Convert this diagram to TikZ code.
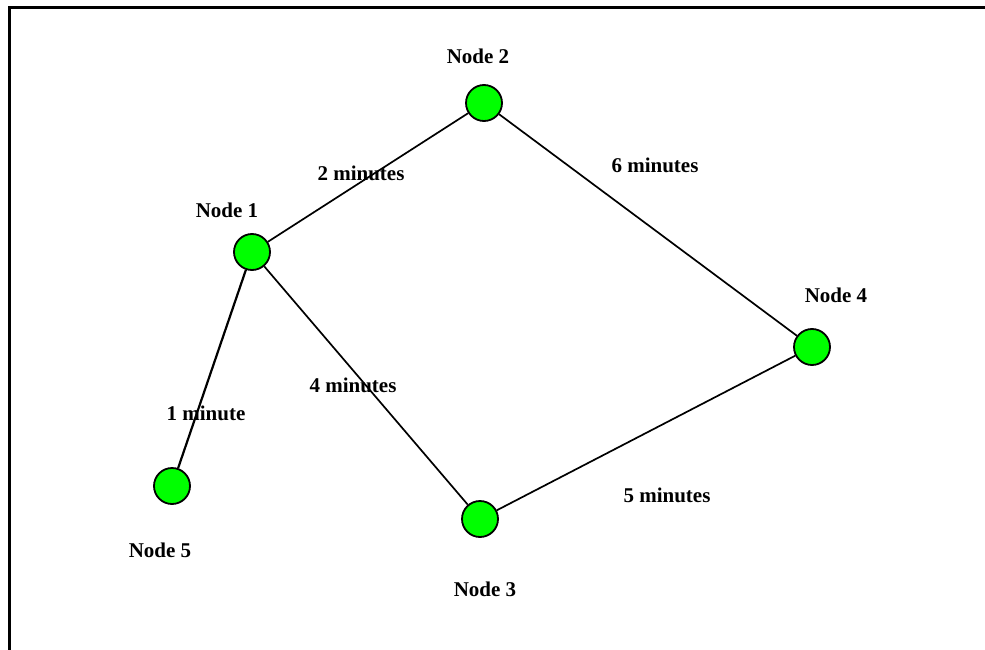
\documentclass[tikz,border=0pt]{standalone}
\usepackage{fontspec}
\setmainfont{Liberation Serif}
\definecolor{nodegreen}{RGB}{0,255,0}
\tikzset{
	vertex/.style={circle,draw,fill=nodegreen,line width=1.8pt,minimum size=36pt,inner sep=0pt},
	tag/.style={anchor=base,inner sep=0pt,font=\fontsize{21}{25}\selectfont\bfseries},
	link/.style={line width=1.7pt}
}
\begin{document}
\begin{tikzpicture}[x=1pt,y=-1pt]
	\useasboundingbox (0,0) rectangle (985,650);
	\draw[line width=3pt] (9.5,650) -- (9.5,7.5) -- (985,7.5);
	% nodes
	\node[vertex] (n1) at (252,252) {};
	\node[vertex] (n2) at (484,103) {};
	\node[vertex] (n3) at (480,519) {};
	\node[vertex] (n4) at (812,347) {};
	\node[vertex] (n5) at (172,486) {};
	\node[tag] (t1) at (227,217) {Node 1};
	\node[tag] (t2) at (478,64) {Node 2};
	\node[tag] (t3) at (485,596) {Node 3};
	\node[tag] (t4) at (836,302) {Node 4};
	\node[tag] (t5) at (160,557) {Node 5};
	% edges
	\draw[link] (n1) -- (n2);
	\draw[link] (n2) -- (n4);
	\draw[link] (n4) -- (n3);
	\draw[link] (n3) -- (n1);
	\draw[link,line width=2.2pt] (n1) -- (n5);
	\node[tag] (w12) at (361,180) {2 minutes};
	\node[tag] (w24) at (655,172) {6 minutes};
	\node[tag] (w13) at (353,392) {4 minutes};
	\node[tag] (w15) at (206,420) {1 minute};
	\node[tag] (w34) at (667,502) {5 minutes};
\end{tikzpicture}
\end{document}
